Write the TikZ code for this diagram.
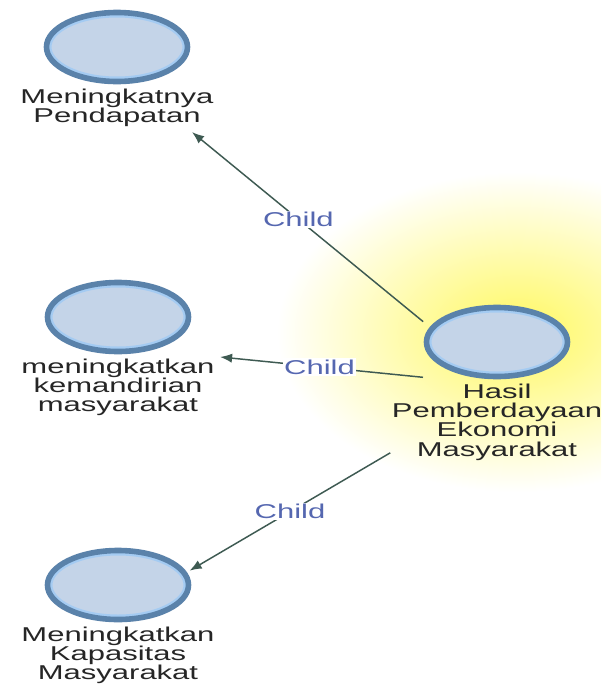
\documentclass[tikz,border=0pt]{standalone}
\usepackage{fontspec}
\usetikzlibrary{arrows.meta,positioning,calc,backgrounds,shapes.geometric}
\newfontfamily\lblfont[FakeStretch=1.55]{Liberation Sans}
\definecolor{ringOut}{HTML}{5A82AA}
\definecolor{ringIn}{HTML}{A4CBF2}
\definecolor{bubble}{HTML}{C4D4E8}
\definecolor{edgeC}{HTML}{3E5A52}
\definecolor{tagC}{HTML}{5567B0}
\definecolor{glowY}{HTML}{FFF860}

\begin{document}
\begin{tikzpicture}[x=0.75pt, y=-0.75pt, font=\lblfont\fontsize{15}{14.5}\selectfont, node distance=2pt,
  concept/.style={ellipse, draw=ringOut, line width=4.2pt, fill=bubble, minimum width=105.75pt, minimum height=51.75pt, inner sep=0pt,
    path picture={\draw[ringIn, line width=7.5pt] let \p1=($(path picture bounding box.north east)-(path picture bounding box.center)$) in (path picture bounding box.center) ellipse [x radius=\x1, y radius=\y1];}},
  lbl/.style={align=center, text=black!85, inner sep=1pt},
  tag/.style={text=tagC, fill=white, inner sep=1pt},
  arr/.style={-{Latex[length=9pt,width=7pt]}, line width=1.1pt, edgeC}]
\useasboundingbox (0,0) rectangle (601,686);
\node[concept] (pend) at (117,47) {};
\node[lbl, below=2pt of pend] (pendT) {Meningkatnya\\Pendapatan};
\node[concept] (mand) at (118,317) {};
\node[lbl, below=2pt of mand] (mandT) {meningkatkan\\kemandirian\\masyarakat};
\node[concept] (kap) at (118,585) {};
\node[lbl, below=2pt of kap] (kapT) {Meningkatkan\\Kapasitas\\Masyarakat};
\node[concept] (hub) at (497,342) {};
\node[lbl, below=2pt of hub] (hubT) {Hasil\\Pemberdayaan\\Ekonomi\\Masyarakat};
\draw[arr] ([shift={(-9,-3)}]hub.165) -- node[tag, pos=0.54] {Child} ([shift={(-23,4)}]pendT.south east);
\draw[arr] ([shift={(-74,-2)}]hub.south) -- node[tag, pos=0.51] {Child} ([shift={(4,0)}]mandT.north east);
\draw[arr] ([shift={(0,-9)}]hubT.south west) -- node[tag, pos=0.5] {Child} ([shift={(4,0)}]kap.12);
\begin{scope}[on background layer]
\fill[white] (0,0) rectangle (601,686);
\clip (0,0) rectangle (601,686);
\shade[inner color=glowY, outer color=white] ([shift={(20,-10)}]hub.center) ellipse [x radius=240, y radius=160];
\end{scope}
\end{tikzpicture}
\end{document}
